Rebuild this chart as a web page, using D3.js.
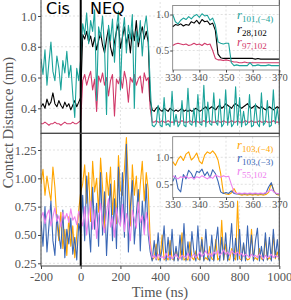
<!DOCTYPE html>
<meta charset="utf-8">
<script src="https://d3js.org/d3.v7.min.js"></script>
<style>body{margin:0;background:#fff}</style>
<body>
<div id="my_dataviz"></div>
<script>
// sampling grid of the long runs (ns) and of the zoomed insets
var time = d3.range(-200, 1001, 10)
var timeZoom = d3.range(330, 371, 1)

// top panel
var r101 = [0.72,0.62,0.78,0.55,0.70,0.83,0.64,0.58,0.74,0.66,
            0.52,0.71,0.63,0.77,0.60,0.68,0.49,0.34,0.66,0.58,
            0.72,0.95,0.88,1.02,0.82,0.97,0.90,1.04,0.45,0.93,
            0.86,1.00,0.79,0.36,0.94,0.84,0.98,0.70,0.92,1.03,
            0.52,0.88,0.99,0.76,0.94,0.85,1.01,0.40,0.90,0.83,
            0.97,0.74,0.92,1.00,0.86,0.55,0.29,0.28,0.30,0.42,
            0.29,0.28,0.47,0.29,0.30,0.28,0.51,0.29,0.36,0.28,
            0.30,0.45,0.29,0.28,0.53,0.30,0.29,0.40,0.28,0.49,
            0.30,0.29,0.55,0.28,0.44,0.30,0.29,0.50,0.31,0.29,
            0.46,0.28,0.30,0.52,0.29,0.41,0.28,0.30,0.54,0.29,
            0.47,0.28,0.38,0.29,0.30,0.49,0.28,0.29,0.43,0.30,
            0.28,0.50,0.29,0.31,0.45,0.28,0.29,0.52,0.30,0.40,
            0.29]
var r28 = [0.41,0.43,0.40,0.46,0.42,0.44,0.50,0.43,0.41,0.45,
           0.42,0.40,0.44,0.41,0.43,0.39,0.42,0.45,0.41,0.44,
           0.47,0.88,0.85,0.90,0.83,0.87,0.80,0.86,0.78,0.84,
           0.89,0.81,0.76,0.85,0.92,0.80,0.74,0.83,0.90,0.95,
           0.79,0.86,0.93,0.82,0.88,0.76,0.91,0.84,0.97,0.80,
           0.88,0.93,0.85,0.90,0.83,0.45,0.39,0.38,0.40,0.41,
           0.39,0.38,0.40,0.39,0.38,0.40,0.39,0.38,0.39,0.38,
           0.39,0.40,0.38,0.39,0.38,0.39,0.38,0.39,0.40,0.39,
           0.38,0.39,0.40,0.41,0.39,0.40,0.41,0.40,0.39,0.41,
           0.42,0.40,0.41,0.43,0.42,0.41,0.40,0.42,0.43,0.42,
           0.41,0.40,0.41,0.42,0.43,0.41,0.40,0.41,0.42,0.41,
           0.40,0.41,0.40,0.39,0.40,0.41,0.40,0.39,0.40,0.41,
           0.40]
var r97 = [0.30,0.30,0.31,0.30,0.29,0.30,0.30,0.31,0.30,0.30,
           0.29,0.30,0.31,0.30,0.30,0.30,0.31,0.30,0.30,0.31,
           0.32,0.58,0.62,0.55,0.60,0.64,0.52,0.59,0.38,0.61,
           0.57,0.63,0.55,0.60,0.48,0.58,0.62,0.35,0.59,0.56,
           0.61,0.53,0.64,0.58,0.44,0.60,0.57,0.62,0.55,0.59,
           0.61,0.50,0.63,0.58,0.60,0.40,0.31,0.31,0.32,0.31,
           0.31,0.32,0.31,0.31,0.32,0.31,0.31,0.31,0.32,0.31,
           0.31,0.32,0.31,0.31,0.31,0.32,0.31,0.31,0.32,0.31,
           0.31,0.31,0.32,0.31,0.31,0.32,0.31,0.31,0.31,0.32,
           0.31,0.31,0.32,0.31,0.31,0.31,0.32,0.31,0.31,0.32,
           0.31,0.31,0.31,0.32,0.31,0.31,0.32,0.31,0.31,0.31,
           0.32,0.31,0.31,0.32,0.31,0.31,0.31,0.32,0.31,0.31,
           0.31]

// bottom panel
var r103m4 = [0.95,1.08,0.85,1.02,0.90,0.80,1.10,0.92,0.62,0.45,
              0.70,0.38,0.55,0.32,0.66,0.40,0.58,0.30,0.50,0.72,
              0.88,0.95,1.12,0.78,1.05,0.62,1.15,0.88,1.00,0.70,
              1.18,0.92,0.55,1.05,0.85,1.10,0.68,0.98,0.60,1.20,
              0.90,0.85,1.08,1.36,0.95,0.58,1.12,0.85,1.02,0.70,
              0.95,1.15,0.80,1.05,0.90,0.45,0.28,0.30,0.42,0.28,
              0.29,0.50,0.28,0.30,0.28,0.45,0.29,0.28,0.38,0.28,
              0.30,0.52,0.28,0.29,0.28,0.44,0.30,0.28,0.36,0.29,
              0.28,0.48,0.28,0.30,0.28,0.40,0.29,0.28,0.46,0.28,
              0.30,0.63,0.28,0.42,0.29,0.28,0.38,0.30,0.28,0.80,
              0.29,0.28,0.42,0.30,0.28,0.29,0.55,0.28,0.30,0.28,
              0.38,0.29,0.28,0.47,0.28,0.30,0.28,0.50,0.29,0.35,
              0.28]
var r103m3 = [0.62,0.40,0.75,0.35,0.58,0.80,0.45,0.32,0.68,0.50,
              0.38,0.72,0.30,0.55,0.42,0.65,0.33,0.48,0.28,0.60,
              0.52,0.85,0.45,1.02,0.60,0.35,0.92,0.55,0.78,0.40,
              1.05,0.50,0.88,0.32,0.70,0.95,0.45,0.82,0.38,1.10,
              0.60,1.05,0.48,1.30,0.35,0.75,0.98,0.42,0.68,0.90,
              0.36,0.80,0.55,0.95,0.50,0.35,0.27,0.45,0.28,0.52,
              0.27,0.38,0.58,0.27,0.48,0.28,0.55,0.27,0.40,0.27,
              0.50,0.28,0.60,0.27,0.44,0.27,0.53,0.35,0.27,0.58,
              0.28,0.46,0.27,0.55,0.30,0.27,0.50,0.27,0.42,0.57,
              0.27,0.48,0.28,0.52,0.27,0.39,0.60,0.27,0.47,0.28,
              0.55,0.27,0.43,0.27,0.58,0.30,0.50,0.27,0.45,0.56,
              0.27,0.40,0.27,0.52,0.28,0.48,0.27,0.55,0.30,0.46,
              0.27]
var r55 = [0.65,0.70,0.60,0.68,0.72,0.58,0.66,0.74,0.62,0.67,
           0.57,0.70,0.64,0.69,0.61,0.73,0.63,0.66,0.59,0.71,
           0.64,0.58,0.75,0.50,0.68,0.80,0.55,0.72,0.47,0.65,
           0.78,0.60,0.52,0.70,0.82,0.57,0.66,0.48,0.74,0.62,
           0.58,0.77,0.53,0.69,0.60,0.45,0.72,0.64,0.56,0.79,
           0.61,0.67,0.50,0.70,0.58,0.40,0.30,0.32,0.29,0.33,
           0.30,0.31,0.29,0.34,0.30,0.32,0.29,0.31,0.33,0.30,
           0.29,0.32,0.31,0.30,0.34,0.29,0.31,0.33,0.30,0.32,
           0.35,0.31,0.33,0.36,0.32,0.34,0.31,0.35,0.33,0.36,
           0.32,0.34,0.37,0.33,0.35,0.32,0.36,0.34,0.33,0.35,
           0.32,0.34,0.31,0.33,0.32,0.30,0.33,0.31,0.32,0.30,
           0.33,0.31,0.29,0.32,0.30,0.31,0.33,0.30,0.32,0.31,
           0.30]

// zoomed insets, 330-370 ns
var z101 = [1.00,0.90,0.87,0.92,0.95,0.93,0.97,0.94,0.98,1.00,
            0.96,1.01,0.98,0.99,0.92,0.95,0.85,0.62,0.60,0.59,
            0.60,0.60,0.33,0.29,0.30,0.29,0.29,0.29,0.29,0.33,
            0.29,0.29,0.30,0.29,0.29,0.29,0.30,0.29,0.29,0.29,0.29]
var z28 = [0.83,0.86,0.85,0.87,0.84,0.86,0.85,0.90,0.88,0.92,
           0.87,0.93,0.90,0.91,0.86,0.88,0.78,0.45,0.40,0.39,
           0.39,0.39,0.39,0.39,0.39,0.39,0.39,0.39,0.39,0.39,
           0.39,0.38,0.39,0.38,0.38,0.38,0.38,0.38,0.38,0.38,0.38]
var z97 = [0.57,0.59,0.60,0.59,0.58,0.59,0.57,0.58,0.60,0.58,
           0.59,0.57,0.60,0.58,0.59,0.50,0.39,0.37,0.37,0.36,
           0.37,0.36,0.35,0.34,0.34,0.33,0.33,0.34,0.33,0.33,
           0.33,0.33,0.33,0.33,0.33,0.33,0.33,0.33,0.33,0.33,0.33]
var z103m4 = [0.92,0.85,0.96,1.02,0.94,1.06,1.10,0.95,1.00,1.08,
              0.93,0.88,1.04,1.10,1.07,1.12,1.06,0.95,0.70,0.34,
              0.32,0.31,0.34,0.42,0.33,0.31,0.30,0.31,0.30,0.31,
              0.30,0.31,0.30,0.31,0.30,0.31,0.35,0.52,0.38,0.31,0.30]
var z103m3 = [0.55,0.66,0.42,0.36,0.68,0.60,0.76,0.70,0.60,0.74,
              0.72,0.78,0.66,0.73,0.62,0.77,0.70,0.56,0.36,0.33,
              0.35,0.33,0.38,0.33,0.32,0.33,0.32,0.33,0.32,0.33,
              0.32,0.33,0.32,0.33,0.32,0.34,0.45,0.53,0.36,0.32,0.32]
var z55 = [0.66,0.63,0.60,0.64,0.62,0.65,0.61,0.63,0.60,0.64,
           0.62,0.66,0.63,0.60,0.64,0.61,0.67,0.65,0.63,0.66,
           0.64,0.65,0.50,0.36,0.33,0.34,0.33,0.34,0.33,0.34,
           0.33,0.34,0.33,0.34,0.33,0.35,0.37,0.40,0.36,0.33,0.33]

var teal = "#1ba39a", crimson = "#d13a6a", orange = "#ffa500", blue = "#3a67b5", violet = "#ee82ee"
var tickFont = "Liberation Serif"

var svg = d3.select("#my_dataviz").append("svg")
    .attr("width", 291).attr("height", 300)

var xLeft = 41, xRight = 279.3, yTopEdge = -2, yMid = 133.3, yBottom = 266

var x = d3.scaleLinear().domain([-200, 1000]).range([xLeft, xRight])
var yTop = d3.scaleLinear().domain([0.4, 1.0]).range([108.3, 16])
var yBot = d3.scaleLinear().domain([0.25, 1.25]).range([263.3, 150])

var defs = svg.append("defs")
defs.append("clipPath").attr("id", "clipTop").append("rect")
    .attr("x", xLeft).attr("y", yTopEdge).attr("width", xRight - xLeft).attr("height", yMid - yTopEdge)
defs.append("clipPath").attr("id", "clipBot").append("rect")
    .attr("x", xLeft).attr("y", yMid).attr("width", xRight - xLeft).attr("height", yBottom - yMid)

function grid(g, xs, ys, xt, yt, x0, x1, y0, y1) {
    g.selectAll(".gv").data(xt).enter().append("line")
        .attr("x1", d => xs(d)).attr("x2", d => xs(d)).attr("y1", y0).attr("y2", y1)
        .attr("stroke", "#d4d4d4").attr("stroke-width", 0.7).attr("stroke-dasharray", "2,2")
    g.selectAll(".gh").data(yt).enter().append("line")
        .attr("y1", d => ys(d)).attr("y2", d => ys(d)).attr("x1", x0).attr("x2", x1)
        .attr("stroke", "#d4d4d4").attr("stroke-width", 0.7).attr("stroke-dasharray", "2,2")
}

var xTicks = [-200, 0, 200, 400, 600, 800, 1000]
grid(svg.append("g"), x, yTop, xTicks, [0.4, 0.6, 0.8, 1.0], xLeft, xRight, yTopEdge, yMid)
grid(svg.append("g"), x, yBot, xTicks, [0.25, 0.5, 0.75, 1.0, 1.25], xLeft, xRight, yMid, yBottom)

function trace(g, xs, ys, ts, vals, color, w) {
    g.append("path")
        .datum(vals)
        .attr("d", d3.line().x((d, i) => xs(ts[i])).y(d => ys(d)))
        .attr("fill", "none")
        .attr("stroke", color)
        .attr("stroke-width", w)
        .attr("stroke-linejoin", "round")
}

var gTop = svg.append("g").attr("clip-path", "url(#clipTop)")
trace(gTop, x, yTop, time, r97, crimson, 1.1)
trace(gTop, x, yTop, time, r28, "black", 1.1)
trace(gTop, x, yTop, time, r101, teal, 1.1)

var gBot = svg.append("g").attr("clip-path", "url(#clipBot)")
trace(gBot, x, yBot, time, r103m4, orange, 1.1)
trace(gBot, x, yBot, time, r103m3, blue, 1.1)
trace(gBot, x, yBot, time, r55, violet, 1.1)

// start of the non-equilibrium run
svg.append("line")
    .attr("x1", x(0)).attr("x2", x(0)).attr("y1", yTopEdge).attr("y2", yBottom)
    .attr("stroke", "black").attr("stroke-width", 2)

// panel frames
svg.append("rect").attr("x", xLeft).attr("y", yTopEdge).attr("width", xRight - xLeft).attr("height", yMid - yTopEdge)
    .attr("fill", "none").attr("stroke", "#444").attr("stroke-width", 1)
svg.append("rect").attr("x", xLeft).attr("y", yMid).attr("width", xRight - xLeft).attr("height", yBottom - yMid)
    .attr("fill", "none").attr("stroke", "#444").attr("stroke-width", 1)

function styleAxis(g, size) {
    g.select(".domain").remove()
    g.selectAll(".tick line").attr("stroke", "#444")
    g.selectAll(".tick text").attr("fill", "#555")
        .style("font-family", tickFont).style("font-size", size + "px")
}

svg.append("g").attr("transform", "translate(" + xLeft + ",0)")
    .call(d3.axisLeft(yTop).tickValues([0.4, 0.6, 0.8, 1.0]).tickFormat(d3.format(".1f")).tickSize(3).tickPadding(1.5))
    .call(g => styleAxis(g, 12.5))
svg.append("g").attr("transform", "translate(" + xLeft + ",0)")
    .call(d3.axisLeft(yBot).tickValues([0.25, 0.5, 0.75, 1.0, 1.25]).tickFormat(d3.format(".2f")).tickSize(3).tickPadding(1.5))
    .call(g => styleAxis(g, 12.5))
svg.append("g").attr("transform", "translate(0," + yBottom + ")")
    .call(d3.axisBottom(x).tickValues(xTicks).tickFormat(d => String(d)).tickSize(3).tickPadding(3))
    .call(g => styleAxis(g, 12.5))

svg.append("text")
    .attr("x", 160).attr("y", 296.5).attr("text-anchor", "middle")
    .attr("fill", "#555").style("font-family", tickFont).style("font-size", "14.5px")
    .text("Time (ns)")
svg.append("text")
    .attr("transform", "translate(12.5,122.5) rotate(-90)").attr("text-anchor", "middle")
    .attr("fill", "#555").style("font-family", tickFont).style("font-size", "14.5px")
    .text("Contact Distance (nm)")

svg.append("text").attr("x", 46).attr("y", 13.5)
    .style("font-family", "DejaVu Sans").style("font-size", "16px").text("Cis")
svg.append("text").attr("x", 90).attr("y", 13.5)
    .style("font-family", "DejaVu Sans").style("font-size", "16px").text("NEQ")

// insets: zoom on the transition
var xIn = d3.scaleLinear().domain([330, 370]).range([172.7, 279.3])

function inset(y0, y1, ys, series, labels) {
    var g = svg.append("g")
    g.append("rect").attr("x", 172.7).attr("y", y0).attr("width", 279.3 - 172.7).attr("height", y1 - y0)
        .attr("fill", "white")
    grid(g, xIn, ys, [340, 350, 360], [0.5, 1.0], 172.7, 279.3, y0, y1)
    var gl = g.append("g")
    series.forEach(s => trace(gl, xIn, ys, timeZoom, s[0], s[1], 1.1))
    g.append("rect").attr("x", 172.7).attr("y", y0).attr("width", 279.3 - 172.7).attr("height", y1 - y0)
        .attr("fill", "none").attr("stroke", "#777").attr("stroke-width", 0.8)
    g.append("g").attr("transform", "translate(172.7,0)")
        .call(d3.axisLeft(ys).tickValues([0.5, 1.0]).tickFormat(d3.format(".1f")).tickSize(2.5).tickPadding(1))
        .call(a => styleAxis(a, 10.5))
    g.append("g").attr("transform", "translate(0," + y1 + ")")
        .call(d3.axisBottom(xIn).tickValues([330, 340, 350, 360, 370]).tickFormat(d3.format("d")).tickSize(2.5).tickPadding(1))
        .call(a => styleAxis(a, 10.5))
    labels.forEach(l => {
        var t = g.append("text").attr("x", 237).attr("y", l[2]).attr("fill", l[1])
            .style("font-family", tickFont)
        t.append("tspan").style("font-style", "italic").style("font-size", "12.5px").text("r")
        t.append("tspan").attr("dy", 3).style("font-size", "9px").text(l[0])
    })
}

inset(5.5, 70, d3.scaleLinear().domain([0.5, 1.0]).range([50.5, 14.5]),
    [[z97, crimson], [z28, "black"], [z101, teal]],
    [["101,(\u22124)", teal, 19], ["28,102", "black", 33], ["97,102", crimson, 45.5]])
inset(136.7, 197.5, d3.scaleLinear().domain([0.5, 1.0]).range([184.3, 157.3]),
    [[z103m4, orange], [z103m3, blue], [z55, violet]],
    [["103,(\u22124)", orange, 149], ["103,(\u22123)", blue, 162], ["55,102", violet, 175]])
</script>
</body>
